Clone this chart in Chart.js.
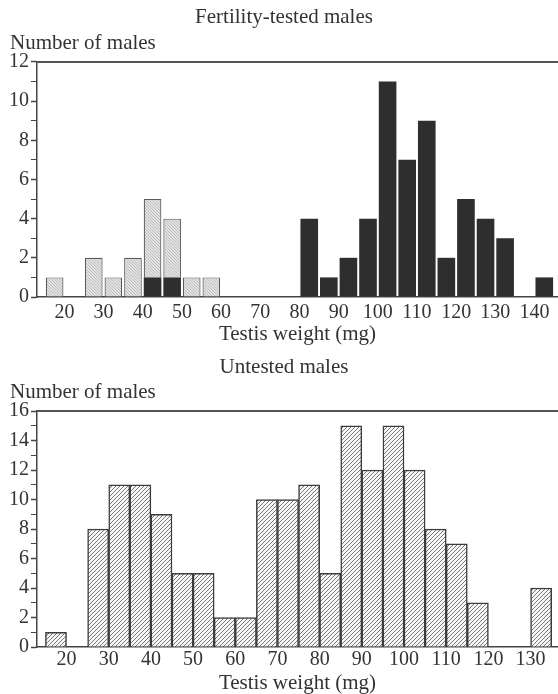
<!DOCTYPE html>
<html>
<head>
<meta charset="utf-8">
<script src="https://cdn.jsdelivr.net/npm/chart.js@4.4.1/dist/chart.umd.min.js"></script>
<style>
  html, body { margin: 0; padding: 0; background: #fff; overflow: hidden; }
  #wrap { position: relative; width: 558px; height: 694px; }
  canvas { position: absolute; left: 0; }
  #testedChart { top: 0; }
  #untestedChart { top: 350px; }
</style>
</head>
<body>
<div id="wrap">
  <canvas id="testedChart" width="558" height="350"></canvas>
  <canvas id="untestedChart" width="558" height="344"></canvas>
</div>
<script>
// lower edge of each 5 mg bin (bars drawn at bin centre)
const testedBins = [15, 20, 25, 30, 35, 40, 45, 50, 55, 60, 65, 70, 75, 80, 85, 90, 95, 100, 105, 110, 115, 120, 125, 130, 135, 140];
const testedLight = [1, 0, 2, 1, 2, 4, 3, 1, 1, 0, 0, 0, 0, 0, 0, 0, 0, 0, 0, 0, 0, 0, 0, 0, 0, 0];
const testedDark = [0, 0, 0, 0, 0, 1, 1, 0, 0, 0, 0, 0, 0, 4, 1, 2, 4, 11, 7, 9, 2, 5, 4, 3, 0, 1];

const untestedBins = [15, 20, 25, 30, 35, 40, 45, 50, 55, 60, 65, 70, 75, 80, 85, 90, 95, 100, 105, 110, 115, 120, 125, 130];
const untestedCounts = [1, 0, 8, 11, 11, 9, 5, 5, 2, 2, 10, 10, 11, 5, 15, 12, 15, 12, 8, 7, 3, 0, 0, 4];

const BIN_WIDTH = 5;
const TEXT = "#333";
const AXIS = "#444";

Chart.defaults.font.family = '"Liberation Serif", "Times New Roman", serif';
Chart.defaults.color = TEXT;

function toPoints(bins, counts) {
  return bins.map((b, i) => ({ x: b + BIN_WIDTH / 2, y: counts[i] || null }));
}

function hatchPattern() {
  const c = document.createElement("canvas");
  c.width = 4;
  c.height = 4;
  const g = c.getContext("2d");
  g.fillStyle = "#f7f7f7";
  g.fillRect(0, 0, 4, 4);
  g.strokeStyle = "#6a6a6a";
  g.lineWidth = 0.9;
  g.beginPath();
  g.moveTo(0, 4); g.lineTo(4, 0);
  g.moveTo(-1, 1); g.lineTo(1, -1);
  g.moveTo(3, 5); g.lineTo(5, 3);
  g.stroke();
  return g.createPattern(c, "repeat");
}

function stipplePattern() {
  const c = document.createElement("canvas");
  c.width = 3;
  c.height = 3;
  const g = c.getContext("2d");
  g.fillStyle = "#e2e2e2";
  g.fillRect(0, 0, 3, 3);
  g.fillStyle = "#bdbdbd";
  g.fillRect(0, 0, 1, 1);
  g.fillRect(1, 1, 1, 1);
  g.fillRect(2, 2, 1, 1);
  return g.createPattern(c, "repeat");
}

// top edge of the plot frame
const frameTop = {
  id: "frameTop",
  afterDraw(chart) {
    const { ctx, chartArea } = chart;
    ctx.save();
    ctx.strokeStyle = "#555";
    ctx.lineWidth = 2;
    ctx.beginPath();
    ctx.moveTo(chartArea.left, chartArea.top);
    ctx.lineTo(chartArea.right, chartArea.top);
    ctx.stroke();
    ctx.restore();
  },
};

function baseOptions(opts) {
  return {
    responsive: false,
    animation: false,
    layout: { padding: { left: 10, right: 0, top: 0, bottom: 0 } },
    plugins: {
      legend: { display: false },
      tooltip: { enabled: false },
      title: {
        display: true,
        text: opts.title,
        font: { size: 21, weight: "normal", lineHeight: 1.2 },
        padding: { top: opts.titleTop, bottom: 0 },
      },
      subtitle: {
        display: true,
        text: "Number of males",
        align: "start",
        font: { size: 21, weight: "normal", lineHeight: 1.2 },
        padding: { top: opts.subTop, bottom: opts.subBottom },
      },
    },
    scales: {
      x: {
        type: "linear",
        stacked: true,
        offset: false,
        min: opts.xMin,
        max: opts.xMax,
        grid: { display: false, drawTicks: false },
        border: { display: true, color: AXIS, width: 1.5 },
        ticks: {
          stepSize: 10,
          includeBounds: false,
          autoSkip: false,
          maxRotation: 0,
          padding: opts.tickPad,
          font: { size: 20, lineHeight: 1 },
          color: TEXT,
        },
        title: {
          display: true,
          text: "Testis weight (mg)",
          font: { size: 21, lineHeight: 0.5 },
          padding: { top: opts.xTitleTop, bottom: opts.xTitleBottom },
          color: TEXT,
        },
      },
      y: {
        stacked: true,
        min: 0,
        max: opts.yMax,
        afterFit(axis) {
          axis.width = 27;
        },
        grid: {
          display: true,
          drawOnChartArea: false,
          drawTicks: true,
          tickLength: 6,
          tickColor: AXIS,
          tickWidth: (ctx) => (ctx.tick && ctx.tick.value % 2 === 0 ? 1.5 : 1),
        },
        border: { display: true, color: AXIS, width: 1.5 },
        ticks: {
          stepSize: 1,
          autoSkip: false,
          padding: 2,
          font: { size: 20 },
          color: TEXT,
          callback: (v) => (v % 2 === 0 ? v : ""),
        },
      },
    },
  };
}

new Chart(document.getElementById("testedChart"), {
  type: "bar",
  data: {
    datasets: [
      {
        label: "Fertile",
        data: toPoints(testedBins, testedDark),
        backgroundColor: "#2e2e2e",
        borderWidth: 0,
        barPercentage: 0.9,
        categoryPercentage: 1,
      },
      {
        label: "Infertile",
        data: toPoints(testedBins, testedLight),
        backgroundColor: stipplePattern(),
        borderColor: "#5a5a5a",
        borderWidth: 1.2,
        barPercentage: 0.9,
        categoryPercentage: 1,
      },
    ],
  },
  options: baseOptions({
    title: "Fertility-tested males",
    titleTop: 5,
    subTop: 1,
    subBottom: 5.5,
    xMin: 13,
    xMax: 146,
    yMax: 12,
    tickPad: 6,
    xTitleTop: 0,
    xTitleBottom: 10.5,
  }),
  plugins: [frameTop],
});

new Chart(document.getElementById("untestedChart"), {
  type: "bar",
  data: {
    datasets: [
      {
        label: "Untested",
        data: toPoints(untestedBins, untestedCounts),
        backgroundColor: hatchPattern(),
        borderColor: "#3c3c3c",
        borderWidth: 1.5,
        barPercentage: 1,
        categoryPercentage: 1,
      },
    ],
  },
  options: baseOptions({
    title: "Untested males",
    titleTop: 4.4,
    subTop: 0,
    subBottom: 6.2,
    xMin: 13,
    xMax: 136.5,
    yMax: 16,
    tickPad: 3,
    xTitleTop: 4.75,
    xTitleBottom: 5.75,
  }),
  plugins: [frameTop],
});
</script>
</body>
</html>
